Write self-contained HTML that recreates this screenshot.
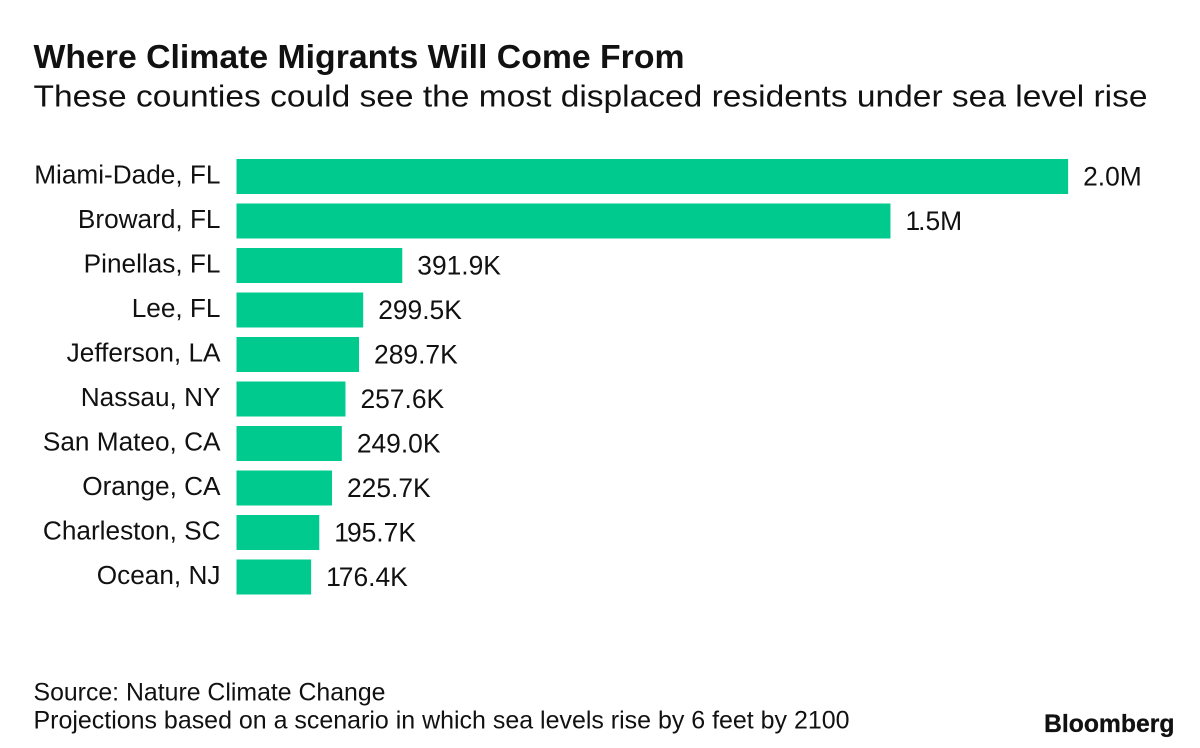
<!DOCTYPE html>
<html lang="en">
<head>
<meta charset="utf-8">
<style>
html,body{margin:0;padding:0;background:#fff;}
#wrap{position:relative;width:1200px;height:748px;overflow:hidden;background:#fff;font-family:"Liberation Sans",Arial,sans-serif;color:#111;}
svg{position:absolute;left:0;top:0;}
text{font-family:"Liberation Sans",Arial,sans-serif;fill:#111;font-variant-ligatures:none;}
</style>
</head>
<body>
<div id="wrap">
<svg id="chart" width="1200" height="748" viewBox="0 0 1200 748">
<text x="33.5" y="68" font-size="33" font-weight="700" textLength="651" lengthAdjust="spacingAndGlyphs">Where Climate Migrants Will Come From</text>
<text x="33.5" y="106.5" font-size="30.5" textLength="1114" lengthAdjust="spacingAndGlyphs">These counties could see the most displaced residents under sea level rise</text>
<g id="bars"></g>
<text x="33.5" y="700.5" font-size="25" textLength="352" lengthAdjust="spacingAndGlyphs">Source: Nature Climate Change</text>
<text x="33.5" y="728.5" font-size="25" textLength="816" lengthAdjust="spacingAndGlyphs">Projections based on a scenario in which sea levels rise by 6 feet by 2100</text>
<text x="1174.5" y="732" font-size="25" font-weight="700" text-anchor="end" textLength="130.5" lengthAdjust="spacingAndGlyphs" stroke="#111" stroke-width="0.3">Bloomberg</text>
</svg>
</div>
<script>
const categories = ["Miami-Dade, FL","Broward, FL","Pinellas, FL","Lee, FL","Jefferson, LA","Nassau, NY","San Mateo, CA","Orange, CA","Charleston, SC","Ocean, NJ"];
const values = [1966000,1546000,391900,299500,289700,257600,249000,225700,195700,176400];
const valueLabels = ["2.0M","1.5M","391.9K","299.5K","289.7K","257.6K","249.0K","225.7K","195.7K","176.4K"];

const NS = "http://www.w3.org/2000/svg";
const barsGroup = document.getElementById("bars");
const axisLeft = 236.5;
const pxPerUnit = 0.000423;
const bandTop = 159;
const bandStep = 44.5;
const barHeight = 35;
function xScale(v){ return axisLeft + v * pxPerUnit; }
function yScale(i){ return bandTop + i * bandStep; }

categories.forEach(function(name, i){
  const y = yScale(i);
  const xEnd = xScale(values[i]);

  const label = document.createElementNS(NS, "text");
  
  
  label.setAttribute("x", 220.5);
  label.setAttribute("y", y + 24.7);
  label.setAttribute("font-size", "26.2");
  label.setAttribute("text-anchor", "end");
  label.textContent = name;
  barsGroup.appendChild(label);

  const rect = document.createElementNS(NS, "rect");
  
  
  rect.setAttribute("x", axisLeft);
  rect.setAttribute("y", y);
  rect.setAttribute("width", xEnd - axisLeft);
  rect.setAttribute("height", barHeight);
  rect.setAttribute("fill", "#00ca8e");
  barsGroup.appendChild(rect);

  const val = document.createElementNS(NS, "text");
  
  
  val.setAttribute("x", xEnd + 15);
  val.setAttribute("y", y + 26.7);
  val.setAttribute("font-size", "26.4");
  // The reference typeface sets a leading "1" a little tighter against the next glyph.
  if (valueLabels[i].charAt(0) === "1") {
    val.setAttribute("dx", "0 -2");
  }
  val.textContent = valueLabels[i];
  barsGroup.appendChild(val);
});
</script>
</body>
</html>
